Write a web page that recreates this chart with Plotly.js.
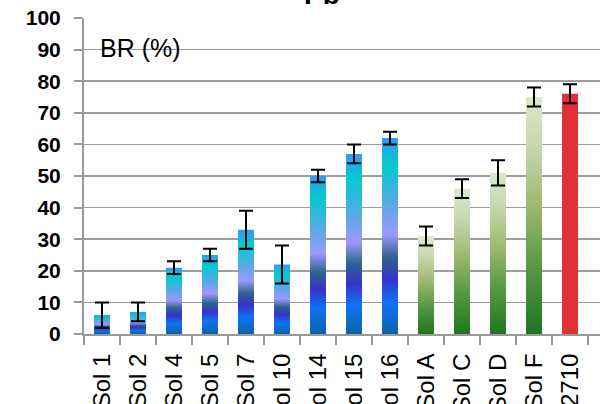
<!DOCTYPE html>
<html>
<head>
<meta charset="utf-8">
<script src="https://cdn.plot.ly/plotly-3.0.1.min.js"></script>
<style>html,body{margin:0;padding:0;background:#fff;}#chart{width:600px;height:404px;}</style>
</head>
<body>
<div id="chart"></div>
<script>
// Data
const categories = ["Sol 1","Sol 2","Sol 4","Sol 5","Sol 7","Sol 10","Sol 14","Sol 15","Sol 16","Sol A","Sol C","Sol D","Sol F","2710"];
const brValues   = [6, 7, 21, 25, 33, 22, 50, 57, 62, 31, 46, 51, 75, 76];
const brErrors   = [4, 3, 2, 2, 6, 6, 2, 3, 2, 3, 3, 4, 3, 3];
const barGroups  = ["blue","blue","blue","blue","blue","blue","blue","blue","blue","green","green","green","green","red"];

const gradients = {
  blue: [[0,"#0a64a8"],[0.16,"#1071f5"],[0.28,"#3434c8"],[0.39,"#2f6291"],[0.51,"#9a9afc"],[0.66,"#5aa8e8"],[0.86,"#02cbcf"],[1,"#2f9bf6"]],
  green: [[0,"#1e761e"],[0.3,"#5b9a48"],[0.55,"#a0ba72"],[0.8,"#c6d9b0"],[1,"#dce8cd"]],
  red: [[0,"#e03136"],[1,"#e03136"]]
};

const halfW = 0.222;
const traces = [];
categories.forEach((c, i) => {
  const v = brValues[i];
  traces.push({
    type: "scatter",
    x: [i - halfW, i + halfW, i + halfW, i - halfW, i - halfW],
    y: [0, 0, v, v, 0],
    mode: "lines",
    line: {width: 0, color: "rgba(0,0,0,0)"},
    fill: "toself",
    fillcolor: gradients[barGroups[i]][0][1],
    fillgradient: {type: "vertical", colorscale: gradients[barGroups[i]], start: 0, stop: v},
    hoverinfo: "skip",
    showlegend: false
  });
});

traces.push({
  type: "scatter",
  x: categories.map((c, i) => i),
  y: brValues,
  mode: "markers",
  marker: {size: 1, color: "rgba(0,0,0,0)"},
  error_y: {type: "data", array: brErrors, visible: true, color: "#000", thickness: 2, width: 7},
  showlegend: false
});

const boundaries = categories.map((c, i) => i - 0.5).concat([categories.length - 0.5]);
const fontFam = "Liberation Sans, Arial, sans-serif";

const layout = {
  width: 600, height: 404,
  margin: {l: 84, r: 0, t: 18, b: 70},
  paper_bgcolor: "#fff", plot_bgcolor: "#fff",
  showlegend: false,
  xaxis: {
    range: [-0.5, -0.5 + 516/36],
    tickmode: "array",
    tickvals: categories.map((c, i) => i),
    ticktext: categories,
    tickangle: -90,
    ticks: "",
    tickfont: {family: fontFam, size: 24, color: "#000"},
    ticklabelstandoff: 8,
    showgrid: false, zeroline: false,
    showline: true, linecolor: "#999", linewidth: 2,
    minor: {tickmode: "array", tickvals: boundaries, ticks: "outside", ticklen: 9, tickcolor: "#999", tickwidth: 2, showgrid: false},
    fixedrange: true
  },
  yaxis: {
    range: [0, 100],
    tickvals: [0,10,20,30,40,50,60,70,80,90,100],
    ticks: "outside", ticklen: 8, tickcolor: "#999", tickwidth: 2,
    tickfont: {family: fontFam, size: 21, color: "#000", weight: "bold"},
    showgrid: true, gridcolor: "#9d9d9d", gridwidth: 1.5,
    zeroline: false,
    showline: true, linecolor: "#999", linewidth: 2,
    ticklabelstandoff: 9,
    fixedrange: true
  },
  annotations: [
    {text: "BR (%)", xref: "paper", yref: "paper", x: (98-84)/516, y: 1 - (48-18)/316, xanchor: "left", yanchor: "middle",
     showarrow: false, font: {family: fontFam, size: 25, color: "#000"}},
    {text: "Pb", xref: "paper", yref: "paper", x: (322-84)/516, y: 1 + (18-12)/316, xanchor: "center", yanchor: "bottom",
     showarrow: false, font: {family: fontFam, size: 28, color: "#000", weight: "bold"}}
  ]
};

Plotly.newPlot("chart", traces, layout, {staticPlot: true, displayModeBar: false});
</script>
</body>
</html>
